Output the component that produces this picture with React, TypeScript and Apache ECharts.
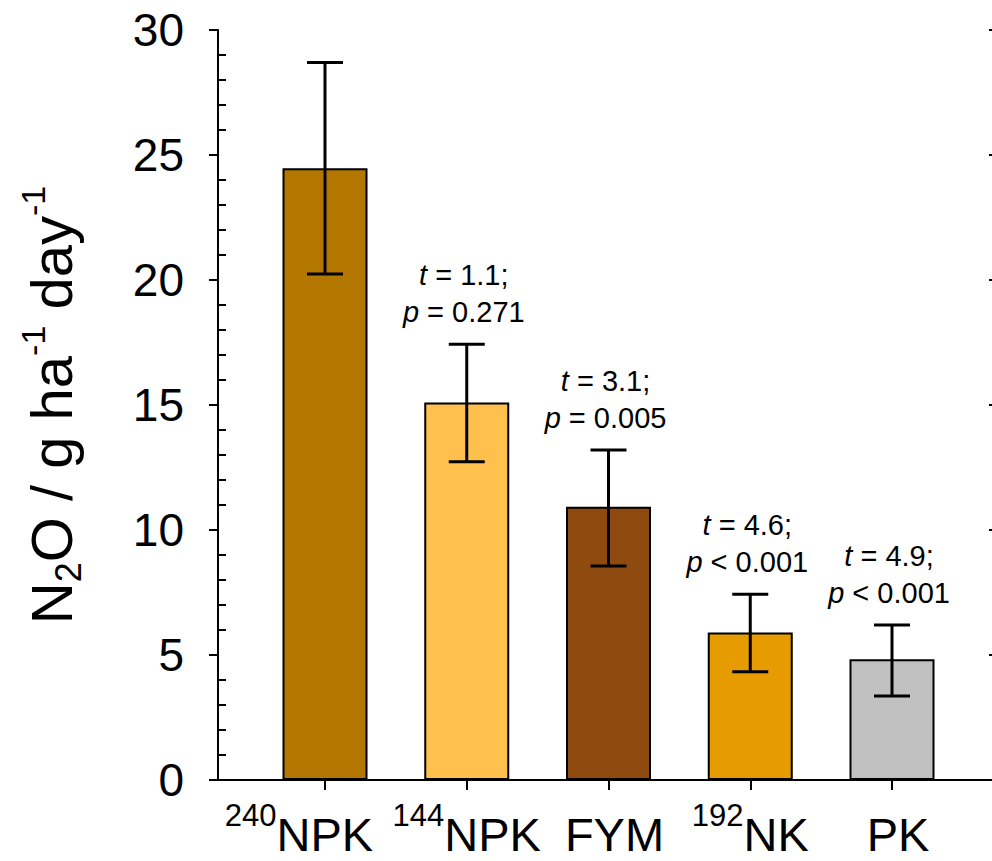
import React, { useEffect, useRef } from "react";
import * as echarts from "echarts";

const categories = ["240NPK", "144NPK", "FYM", "192NK", "PK"];
const labelSups = ["240", "144", "", "192", ""];
const labelMains = ["NPK", "NPK", "FYM", "NK", "PK"];
const means = [24.47, 15.1, 10.93, 5.9, 4.83];
const errHigh = [28.7, 17.43, 13.2, 7.43, 6.2];
const errLow = [20.24, 12.73, 8.56, 4.33, 3.36];
const tStats = ["", "1.1", "3.1", "4.6", "4.9"];
const pStats = ["", "= 0.271", "= 0.005", "< 0.001", "< 0.001"];
const barColors = ["#B37700", "#FFC04D", "#8F4A0F", "#E69B00", "#C0C0C0"];
const yTicks = { min: 0, max: 30, interval: 5 };

// layout only: horizontal nudge of each category label (px)
const labelNudge = [-26, 0, 6, 0, 6];

const FONT = '"Liberation Sans", Arial, Helvetica, sans-serif';

export default function App() {
  const ref = useRef<HTMLDivElement>(null);
  useEffect(() => {
    if (!ref.current) return;
    const chart = echarts.init(ref.current, null, { renderer: "svg" });
    const black = "#000";
    const gapStyles: any = {};
    labelNudge.forEach((v, i) => {
      gapStyles[`g${i}`] = { width: Math.max(1, 2 * Math.abs(v)), fontSize: 10, lineHeight: 10 };
    });
    const option: any = {
      animation: false,
      backgroundColor: "#fff",
      grid: [
        { left: 218, top: 30, width: 781, height: 750, containLabel: false },
        { left: 254.125, top: 30, width: 708.75, height: 750, containLabel: false },
      ],
      xAxis: [
        {
          gridIndex: 0, type: "value", min: 0, max: 1, position: "bottom",
          axisLine: { show: true, lineStyle: { color: black, width: 2 } },
          axisTick: { show: false }, axisLabel: { show: false }, splitLine: { show: false },
        },
        {
          gridIndex: 0, type: "value", min: 0, max: 1, position: "top",
          axisLine: { show: true, lineStyle: { color: black, width: 2 } },
          axisTick: { show: false }, axisLabel: { show: false }, splitLine: { show: false },
        },
        {
          gridIndex: 1, type: "category", data: categories, position: "bottom",
          axisLine: { show: false },
          axisTick: { show: true, alignWithLabel: true, length: 10, lineStyle: { color: black, width: 2 } },
          axisLabel: {
            margin: 20,
            interval: 0,
            formatter: (_v: string, i: number) => {
              const nudge = labelNudge[i];
              const pre = nudge > 0 ? `{g${i}| }` : "";
              const post = nudge < 0 ? `{g${i}| }` : "";
              const body = labelSups[i]
                ? `{sup|${labelSups[i]}}{n|${labelMains[i]}}`
                : `{n|${labelMains[i]}}`;
              return pre + body + post;
            },
            rich: {
              n: { fontSize: 47, fontFamily: FONT, color: black, lineHeight: 58, verticalAlign: "bottom" },
              sup: { fontSize: 31, fontFamily: FONT, color: black, lineHeight: 15, verticalAlign: "top" },
              ...gapStyles,
            },
          },
          splitLine: { show: false },
        },
      ],
      yAxis: [
        {
          gridIndex: 0, type: "value", ...yTicks, position: "left",
          axisLine: { show: true, lineStyle: { color: black, width: 2 } },
          axisTick: { show: true, inside: false, length: 9, lineStyle: { color: black, width: 2 } },
          axisLabel: { show: true, fontSize: 46, fontFamily: FONT, color: black, margin: 34 },
          splitLine: { show: false },
        },
        {
          gridIndex: 0, type: "value", ...yTicks, position: "left",
          axisLine: { show: false },
          axisTick: { show: false, inside: true },
          minorTick: { show: true, splitNumber: 5, length: 8, lineStyle: { color: black, width: 2 } },
          axisLabel: { show: false }, splitLine: { show: false }, minorSplitLine: { show: false },
        },
        {
          gridIndex: 0, type: "value", ...yTicks, position: "right",
          axisLine: { show: true, lineStyle: { color: black, width: 2 } },
          axisTick: { show: true, inside: true, length: 10, lineStyle: { color: black, width: 2 } },
          axisLabel: { show: false }, splitLine: { show: false },
        },
        {
          gridIndex: 1, type: "value", ...yTicks, show: false, splitLine: { show: false },
        },
      ],
      graphic: [
        {
          type: "text",
          x: 51,
          y: 405,
          rotation: Math.PI / 2,
          style: {
            text: "{n|N}{s|2}{n|O / g ha}{u|-1}{n| day}{u|-1}",
            align: "center",
            verticalAlign: "middle",
            fill: black,
            rich: {
              n: { fontSize: 58, fontFamily: FONT, lineHeight: 70, fill: black },
              s: { fontSize: 36, fontFamily: FONT, lineHeight: 15, verticalAlign: "bottom", fill: black },
              u: { fontSize: 34, fontFamily: FONT, lineHeight: 19, verticalAlign: "top", fill: black },
            },
          },
        },
      ],
      series: [
        {
          type: "bar",
          xAxisIndex: 2,
          yAxisIndex: 3,
          barWidth: 85,
          data: means.map((v, i) => ({
            value: v,
            itemStyle: { color: barColors[i], borderColor: black, borderWidth: 2 },
          })),
        },
        {
          type: "custom",
          xAxisIndex: 2,
          yAxisIndex: 3,
          z: 5,
          data: means.map((_, i) => [i, errHigh[i], errLow[i]]),
          renderItem: (params: any, api: any) => {
            const idx = api.value(0);
            const top = api.coord([idx, api.value(1)]);
            const bot = api.coord([idx, api.value(2)]);
            const hw = 18;
            const st = { stroke: black, lineWidth: 3 };
            const children: any[] = [
              { type: "line", shape: { x1: top[0], y1: top[1], x2: bot[0], y2: bot[1] }, style: st },
              { type: "line", shape: { x1: top[0] - hw, y1: top[1], x2: top[0] + hw, y2: top[1] }, style: st },
              { type: "line", shape: { x1: bot[0] - hw, y1: bot[1], x2: bot[0] + hw, y2: bot[1] }, style: st },
            ];
            const di = params.dataIndex;
            if (tStats[di]) {
              children.push({
                type: "text",
                x: top[0] - 3,
                y: top[1] - 14,
                style: {
                  text: `{i|t}{r| = ${tStats[di]};}\n{i|p}{r| ${pStats[di]}}`,
                  align: "center",
                  verticalAlign: "bottom",
                  fontSize: 29,
                  fontFamily: FONT,
                  lineHeight: 37,
                  fill: black,
                  rich: {
                    i: { fontStyle: "italic", fontSize: 29, fontFamily: FONT, lineHeight: 37, fill: black },
                    r: { fontSize: 29, fontFamily: FONT, lineHeight: 37, fill: black },
                  },
                },
              });
            }
            return { type: "group", children };
          },
        },
      ],
    };
    chart.setOption(option);
    return () => chart.dispose();
  }, []);
  return (
    <div
      ref={ref}
      style={{ position: "fixed", left: 0, top: 0, width: 1010, height: 861, background: "#fff" }}
    />
  );
}
